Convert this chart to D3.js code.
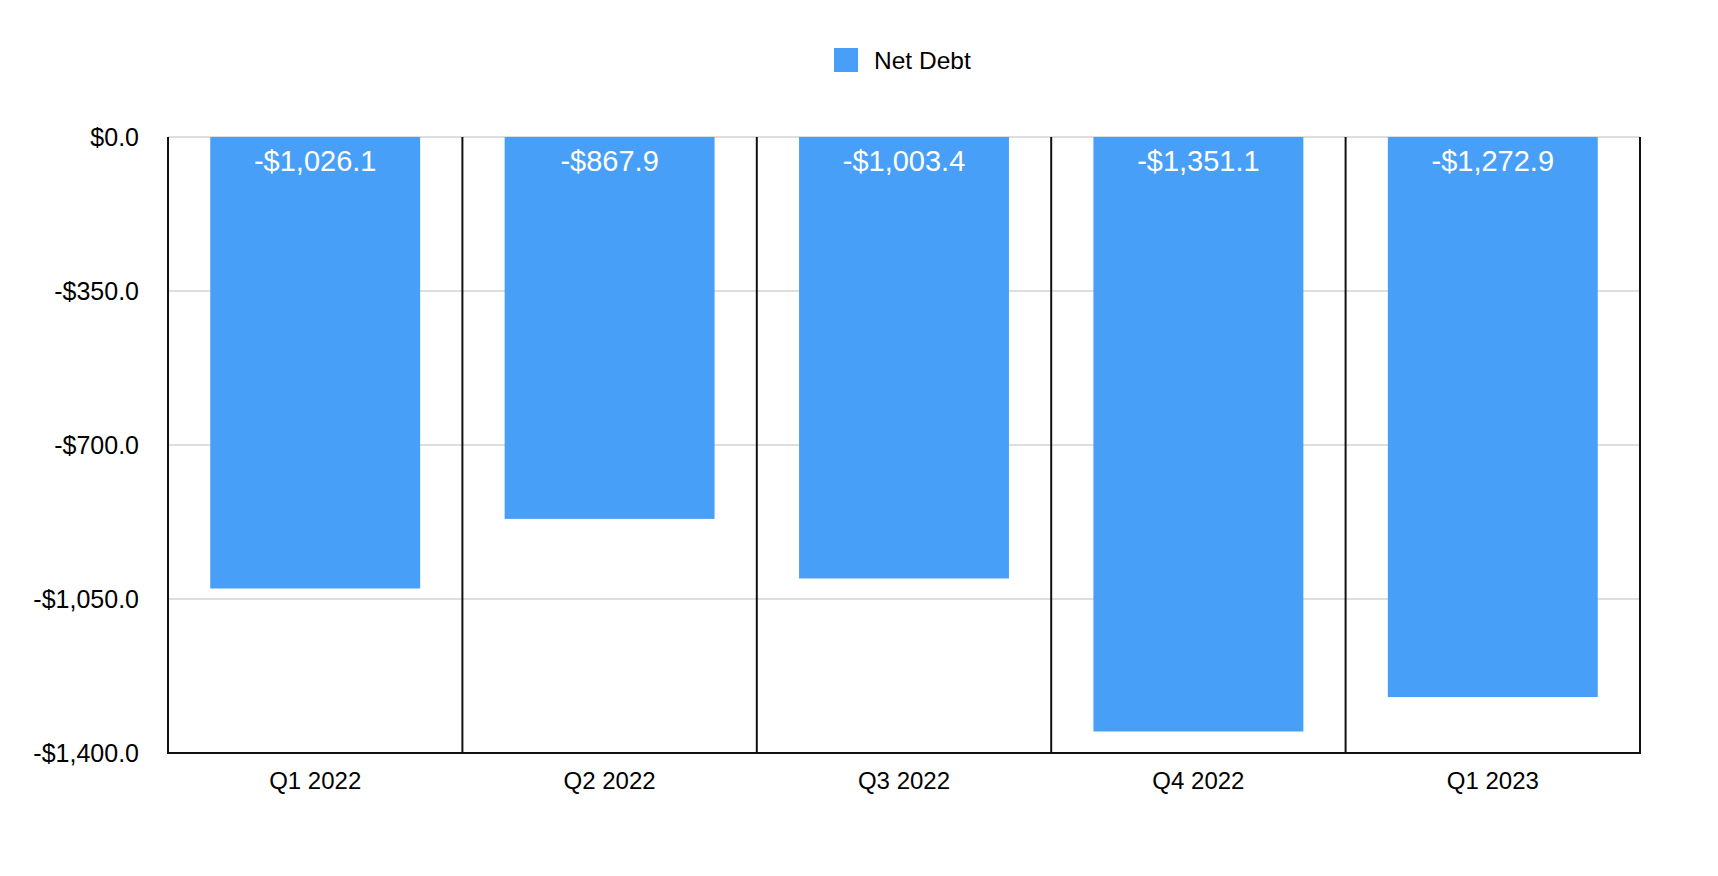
<!DOCTYPE html>
<html><head><meta charset="utf-8">
<script src="https://cdn.jsdelivr.net/npm/d3@7"></script>
<style>body{margin:0;background:#fff}svg{display:block}text{font-family:"Liberation Sans",Arial,Helvetica,sans-serif}</style>
</head><body>
<svg id="c" width="1718" height="876"></svg>
<script>
const categories = ["Q1 2022","Q2 2022","Q3 2022","Q4 2022","Q1 2023"];
const netDebt = [-1026.1,-867.9,-1003.4,-1351.1,-1272.9];
const yTicks = [0,-350,-700,-1050,-1400];
const seriesName = "Net Debt";

const W=1718,H=876;
const m={l:168,r:78,t:137,b:123};
const svg=d3.select("#c");
const x=d3.scaleBand().domain(categories).range([m.l,W-m.r]).paddingInner(0.287).paddingOuter(0.1435);
const xb=d3.scaleBand().domain(categories).range([m.l,W-m.r]).padding(0);
const y=d3.scaleLinear().domain([-1400,0]).range([H-m.b,m.t]);
const fmt=v=>(v<0?"-$":"$")+d3.format(",.1f")(Math.abs(v));

// gridlines
svg.append("g").selectAll("line").data(yTicks).join("line")
 .attr("x1",m.l).attr("x2",W-m.r).attr("y1",d=>y(d)).attr("y2",d=>y(d))
 .attr("stroke","#bdbdbd").attr("stroke-width",1);

// bars
svg.append("g").selectAll("rect").data(netDebt).join("rect")
 .attr("x",(d,i)=>x(categories[i])).attr("width",x.bandwidth())
 .attr("y",y(0)).attr("height",d=>y(d)-y(0)).attr("fill","#489ff8");

// separators
const seps=categories.map(c=>xb(c)).concat([W-m.r]);
svg.append("g").selectAll("line").data(seps).join("line")
 .attr("x1",d=>d).attr("x2",d=>d).attr("y1",m.t).attr("y2",H-m.b)
 .attr("stroke","#111").attr("stroke-width",2);
// bottom axis line
svg.append("line").attr("x1",m.l-1).attr("x2",W-m.r+1).attr("y1",H-m.b).attr("y2",H-m.b).attr("stroke","#111").attr("stroke-width",2);

// y labels
svg.append("g").selectAll("text").data(yTicks).join("text")
 .attr("x",139).attr("y",d=>y(d)).attr("dy","0.35em").attr("text-anchor","end")
 .attr("font-size",25).attr("fill","#000").text(fmt);

// x labels
svg.append("g").selectAll("text").data(categories).join("text")
 .attr("x",d=>xb(d)+xb.bandwidth()/2).attr("y",789).attr("text-anchor","middle")
 .attr("font-size",24).attr("fill","#000").text(d=>d);

// value labels
svg.append("g").selectAll("text").data(netDebt).join("text")
 .attr("x",(d,i)=>x(categories[i])+x.bandwidth()/2).attr("y",171).attr("text-anchor","middle")
 .attr("font-size",29).attr("fill","#fff").text(fmt);

// legend
svg.append("rect").attr("x",834).attr("y",48).attr("width",24).attr("height",24).attr("fill","#489ff8");
svg.append("text").attr("x",874).attr("y",69).attr("font-size",24.5).attr("fill","#000").text(seriesName);
</script>
</body></html>
